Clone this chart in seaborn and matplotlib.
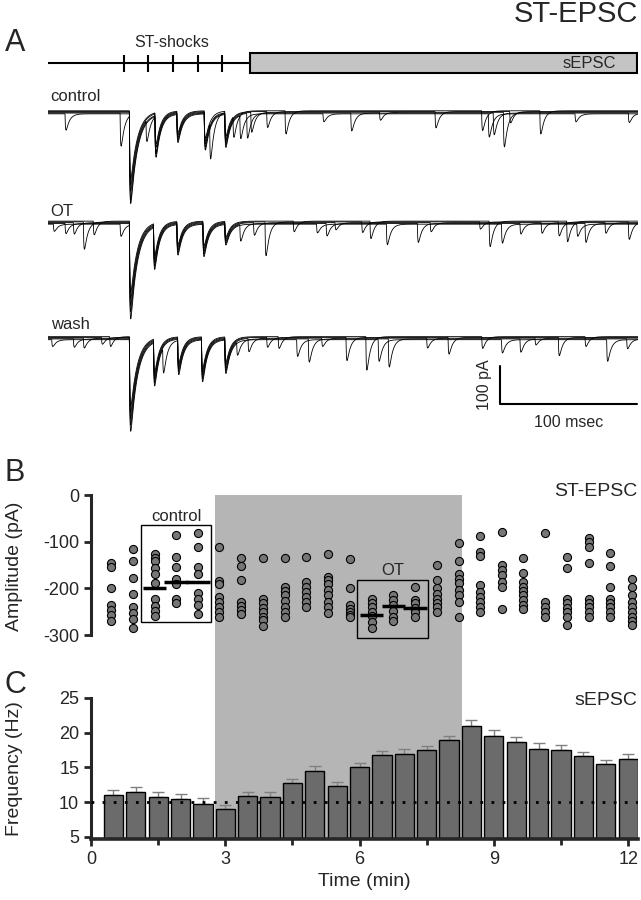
import numpy as np
import pandas as pd
import matplotlib
matplotlib.use('Agg')
import matplotlib.pyplot as plt
import matplotlib.transforms as mtransforms
from matplotlib.patches import Rectangle
import seaborn as sns

sns.set_style('ticks')
plt.rcParams['font.family'] = ['Liberation Sans', 'DejaVu Sans']
plt.rcParams['axes.unicode_minus'] = False

# ---------------- data ----------------
# Panel A: protocol (ms) and example sweeps (pA)
shock_times = [55.5, 73, 91, 109.5, 127]
sepsc_start = 147.4
trace_end = 430.7

st_times = {
    'control': [59.4, 78, 94, 114, 129],
    'OT': [59.4, 77, 94, 113, 129],
    'wash': [59.4, 77, 94.6, 112, 129],
}
st_amps = {
    'control': [236, 108, 74, 95, 87],
    'OT': [247, 111, 80, 85, 54],
    'wash': [241, 114, 90, 110, 88],
}
spont_times = {
    'control': [12.4, 52.6, 71.5, 118, 135, 140, 145, 148, 159.6, 173, 200.7, 221, 242, 282.5,
                316.5, 321.4, 325, 332.4, 337, 359, 384.7, 423.6],
    'OT': [3.9, 12.4, 18.5, 25.8, 33, 52.6, 140, 150, 158.4, 179, 196, 203, 209.5, 229, 235, 247,
           269.6, 279, 315, 322, 331, 344.5, 360, 372.5, 378.6, 386, 392, 406.6, 423.6],
    'wash': [2.7, 18.5, 25.8, 39, 45, 83.7, 137.7, 146, 159.6, 168, 181.5, 190, 199.8, 217.5, 232,
             241, 248.4, 276.4, 292, 316.6, 331, 344.5, 355.5, 372.5, 392, 407.8, 422.4],
}
spont_amps = {
    'control': [43, 87, 56, 96, 56, 61, 65, 52, 42, 61, 21, 47, 21, 43, 52, 61, 57, 91, 30, 61, 21, 25],
    'OT': [19, 27, 30, 72, 36, 32, 44, 33, 89, 28, 23, 33, 19, 28, 46, 54, 50, 24, 19, 67, 50, 28,
           28, 37, 54, 32, 50, 28, 46],
    'wash': [18, 22, 26, 18, 26, 66, 35, 35, 26, 31, 44, 61, 22, 61, 88, 57, 74, 26, 44, 31, 35, 35,
             18, 48, 26, 57, 26],
}
sweep_scale = [1.0, 0.94, 0.88, 0.82, 0.76]
sweep_offset = [-4, -2, 0, 2, 4]

# Panel B: ST-EPSC amplitudes (pA) per time point (min)
amp_times = [0.45, 0.93, 1.42, 1.90, 2.39, 2.87, 3.36, 3.84, 4.33, 4.81, 5.30, 5.78, 6.27,
             6.75, 7.24, 7.72, 8.21, 8.69, 9.18, 9.66, 10.15, 10.63, 11.12, 11.60, 12.09]
amp_values = [
    [-146, -153, -198, -236, -246, -257, -270],
    [-116, -141, -177, -212, -240, -252, -265, -285],
    [-126, -134, -142, -157, -170, -189, -222, -238, -248, -258],
    [-85, -132, -153, -180, -190, -222, -232],
    [-82, -112, -153, -170, -210, -222, -236, -255],
    [-111, -183, -190, -218, -229, -240, -250, -261],
    [-135, -152, -182, -228, -237, -246, -255],
    [-134, -222, -232, -241, -250, -260, -268, -280],
    [-135, -196, -205, -214, -226, -240, -250, -260],
    [-133, -186, -196, -207, -218, -229, -240],
    [-126, -176, -182, -190, -204, -214, -228, -240, -253],
    [-138, -200, -235, -243, -250, -257, -262],
    [-222, -232, -240, -250, -258, -271, -285],
    [-214, -225, -236, -248, -260, -270],
    [-196, -225, -232, -241, -250, -261],
    [-150, -182, -200, -211, -222, -232, -240, -250],
    [-102, -141, -170, -179, -189, -204, -214, -229, -260],
    [-88, -121, -131, -193, -207, -219, -230, -240, -250],
    [-80, -150, -161, -171, -186, -196, -243],
    [-134, -166, -186, -196, -205, -214, -225, -236, -245],
    [-82, -230, -240, -250, -260],
    [-133, -156, -222, -232, -241, -250, -261, -279],
    [-93, -100, -111, -145, -222, -232, -240, -250, -261],
    [-124, -152, -197, -222, -232, -240, -250, -261],
    [-180, -196, -214, -229, -240, -250, -260, -270, -279],
]
control_mean_times = [1.42, 1.90, 2.39]
control_means = [-198, -187, -186]
ot_mean_times = [6.27, 6.75, 7.24]
ot_means = [-257, -238, -241]

# Panel C: sEPSC frequency (Hz), mean and SEM
freq_times = [0.5, 1.0, 1.5, 2.0, 2.5, 3.0, 3.5, 4.0, 4.5, 5.0, 5.5, 6.0,
              6.5, 7.0, 7.5, 8.0, 8.5, 9.0, 9.5, 10.0, 10.5, 11.0, 11.5, 12.0]
freq_mean = [11.06, 11.44, 10.73, 10.44, 9.77, 9.06, 10.92, 10.73, 12.83, 14.55, 12.35, 15.02,
             16.79, 16.93, 17.5, 18.94, 20.94, 19.51, 18.7, 17.65, 17.5, 16.69, 15.45, 16.17]
freq_sem = [0.72, 0.72, 0.67, 0.72, 0.81, 0.57, 0.53, 0.72, 0.53, 0.67, 0.62, 0.67,
            0.57, 0.67, 0.62, 0.57, 0.86, 0.86, 0.72, 0.81, 0.72, 0.57, 0.62, 0.76]
baseline_freq = 10.0
ot_start, ot_end = 2.78, 8.29

# ---------------- figure ----------------
W, H = 641, 900
fig = plt.figure(figsize=(W / 100, H / 100), dpi=100)


def px_axes(x0, y0, x1, y1):
    return fig.add_axes([x0 / W, 1 - y1 / H, (x1 - x0) / W, (y1 - y0) / H])


# ---- panel A ----
ax_a = px_axes(48, 30, 638, 440)
ax_a.set_facecolor('none')

row_offset = {'control': -216.6, 'OT': -507, 'wash': -811}
label_y = {'control': -175, 'OT': -478, 'wash': -776}

t = np.arange(0, trace_end, 0.1)


def epsc(t0, amp, tau_d, tau_r=0.35):
    dt = t - t0
    out = np.zeros_like(t)
    m = dt > 0
    out[m] = np.exp(-dt[m] / tau_d) - np.exp(-dt[m] / tau_r)
    tp = np.log(tau_d / tau_r) * tau_d * tau_r / (tau_d - tau_r)
    norm = np.exp(-tp / tau_d) - np.exp(-tp / tau_r)
    return -amp * out / norm


for cond in ['control', 'OT', 'wash']:
    frames = []
    for k, (sc, off) in enumerate(zip(sweep_scale, sweep_offset)):
        cur = np.full_like(t, float(off))
        for j, (ts, a) in enumerate(zip(st_times[cond], st_amps[cond])):
            cur += epsc(ts, a * sc, 5.0 if j == 0 else 3.5)
        for j, (ts, a) in enumerate(zip(spont_times[cond], spont_amps[cond])):
            if j % len(sweep_scale) == k:
                cur += epsc(ts, a, 2.5)
        frames.append(pd.DataFrame({'t': t, 'y': cur + row_offset[cond], 'sweep': k}))
    df = pd.concat(frames)
    sns.lineplot(data=df, x='t', y='y', units='sweep', estimator=None, color='black',
                 linewidth=0.6, ax=ax_a, legend=False)
    ax_a.text(2, label_y[cond], cond, fontsize=12, ha='left', va='center')
ax_a.set_xlim(0, trace_end)
ax_a.set_ylim(-1079, 0)
ax_a.axis('off')

# stimulation protocol
ax_a.plot([0, sepsc_start], [-87.6, -87.6], color='black', lw=1.5)
ax_a.vlines(shock_times, -65.8, -109.7, color='black', lw=1.5)
ax_a.add_patch(Rectangle((sepsc_start, -114), trace_end - sepsc_start - 1, 52.7,
                         facecolor='#c4c4c4', edgecolor='black', lw=1.5))
ax_a.text(90.3, -33, 'ST-shocks', fontsize=11.5, ha='center', va='center')
ax_a.text(415, -88, 'sEPSC', fontsize=12, ha='right', va='center')

# scale bar 100 pA / 100 ms
sb_x, sb_y = 330, -984
ax_a.plot([sb_x, sb_x, sb_x + 100], [sb_y + 100, sb_y, sb_y], color='black', lw=1.5)
ax_a.text(sb_x - 11, sb_y + 50, '100 pA', rotation=90, fontsize=11.5, ha='center', va='center')
ax_a.text(sb_x + 50, sb_y - 48, '100 msec', fontsize=11.5, ha='center', va='center')

# ---- panel B ----
ax_b = px_axes(91, 495, 638, 638)
ax_b.set_facecolor('none')
df_b = pd.DataFrame({'time': np.repeat(amp_times, [len(v) for v in amp_values]),
                     'amp': np.concatenate(amp_values)})
sns.scatterplot(data=df_b, x='time', y='amp', color='#767676', edgecolor='black',
                linewidth=0.8, s=34, ax=ax_b, zorder=3)
ax_b.hlines(control_means, np.array(control_mean_times) - 0.26, np.array(control_mean_times) + 0.26,
            color='black', lw=2.5, zorder=4)
ax_b.hlines(ot_means, np.array(ot_mean_times) - 0.26, np.array(ot_mean_times) + 0.26,
            color='black', lw=2.5, zorder=4)
ax_b.add_patch(Rectangle((1.12, -271), 1.57, 207, fill=False, edgecolor='black', lw=1, zorder=2))
ax_b.add_patch(Rectangle((5.94, -305), 1.59, 124, fill=False, edgecolor='black', lw=1, zorder=2,
                         clip_on=False))
ax_b.text(1.905, -45, 'control', fontsize=12, ha='center', va='center')
ax_b.text(6.735, -162, 'OT', fontsize=12, ha='center', va='center')
ax_b.text(12.2, 8, 'ST-EPSC', fontsize=14, ha='right', va='center', clip_on=False)
ax_b.set_xlim(0, 12.22)
ax_b.set_ylim(-306, 0)
ax_b.set_yticks([-300, -200, -100, 0])
ax_b.set_xlabel('')
ax_b.set_ylabel('Amplitude (pA)', fontsize=14)
ax_b.yaxis.set_label_coords(-0.125, 0.5)
ax_b.xaxis.set_visible(False)
for s in ['top', 'right', 'bottom']:
    ax_b.spines[s].set_visible(False)
ax_b.spines['left'].set_linewidth(2.2)
ax_b.spines['left'].set_bounds(-300, 0)
ax_b.tick_params(axis='y', width=2, length=5, labelsize=13)

# ---- panel C ----
ax_c = px_axes(91, 698, 638, 839)
ax_c.set_facecolor('none')
sns.barplot(x=freq_times, y=freq_mean, native_scale=True, width=0.86, color='#6b6b6b',
            saturation=1, edgecolor='black', linewidth=1, errorbar=None, ax=ax_c, zorder=2)
ax_c.errorbar(freq_times, freq_mean, yerr=[np.zeros(len(freq_sem)), freq_sem], fmt='none',
              ecolor='#808080', elinewidth=1, capsize=4, capthick=1, zorder=1)
ax_c.axhline(baseline_freq, color='black', lw=2, ls=(0, (1, 3)), zorder=4)
ax_c.text(12.2, 24.6, 'sEPSC', fontsize=14, ha='right', va='center')
ax_c.set_xlim(0, 12.22)
ax_c.set_ylim(4.7, 25)
ax_c.set_yticks([5, 10, 15, 20, 25])
ax_c.set_xticks([0, 3, 6, 9, 12])
ax_c.set_xticklabels(['0', '3', '6', '9', '12'])
ax_c.set_xticks([1.5, 4.5, 7.5, 10.5], minor=True)
ax_c.set_xlabel('Time (min)', fontsize=14)
ax_c.set_ylabel('Frequency (Hz)', fontsize=14)
ax_c.yaxis.set_label_coords(-0.125, 0.5)
for s in ['top', 'right']:
    ax_c.spines[s].set_visible(False)
ax_c.spines['left'].set_linewidth(2.2)
ax_c.spines['bottom'].set_linewidth(2.6)
ax_c.tick_params(axis='both', which='major', width=2, length=5, labelsize=13)
ax_c.tick_params(axis='x', which='minor', width=2, length=4)

# OT application shading spanning panels B and C
trans = mtransforms.blended_transform_factory(ax_c.transData, fig.transFigure)
fig.add_artist(Rectangle((ot_start, 1 - 839 / H), ot_end - ot_start, (839 - 495) / H,
                         transform=trans, facecolor='#b5b5b5', edgecolor='none', zorder=-1))

# panel letters and title
fig.text(638 / W, 1 - 14 / H, 'ST-EPSC', fontsize=21, ha='right', va='center')
fig.text(15 / W, 1 - 43 / H, 'A', fontsize=22, ha='center', va='center')
fig.text(15 / W, 1 - 473 / H, 'B', fontsize=22, ha='center', va='center')
fig.text(15 / W, 1 - 685 / H, 'C', fontsize=22, ha='center', va='center')

fig.savefig('out.png', dpi=100)
